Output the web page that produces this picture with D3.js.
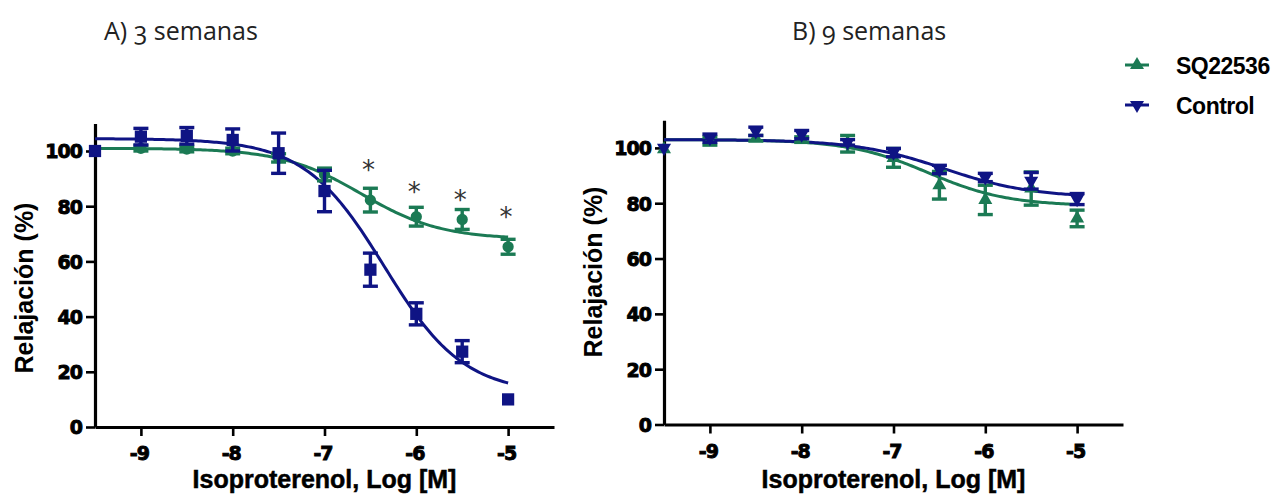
<!DOCTYPE html>
<html>
<head>
<meta charset="utf-8">
<script src="https://cdn.jsdelivr.net/npm/d3@7"></script>
<style>
  html, body { margin: 0; padding: 0; background: #fff; }
  svg { display: block; }
</style>
</head>
<body>
<svg id="chart" width="1282" height="497"></svg>
<script>
// Log concentrations of isoproterenol (M)
const doses = [-9.5, -9, -8.5, -8, -7.5, -7, -6.5, -6, -5.5, -5];
const xTicks = [-9, -8, -7, -6, -5];
const yTicks = [0, 20, 40, 60, 80, 100];

// A) 3 semanas — mean relaxation (%) and SEM
const sqMean3  = [100, 101, 100.7, 100, 97.5, 91.5, 82.2, 76.2, 75.2, 65.3];
const sqSem3   = [0, 1, 1, 1, 1.5, 2.3, 4.3, 3.4, 3.6, 2.7];
const ctlMean3 = [100, 105.2, 105.5, 104, 99.2, 85.5, 57, 41, 27.3, 10];
const ctlSem3  = [0, 3, 3, 4, 7.3, 7.5, 6, 4, 4, 0];

// B) 9 semanas — mean relaxation (%) and SEM
const sqMean9  = [99.5, 102.5, 103.5, 103, 101.5, 96.4, 86.5, 81.2, 85.3, 74.5];
const sqSem9   = [0, 1.5, 1, 1, 3, 3.4, 5, 5.3, 6, 3];
const ctlMean9 = [100, 103.5, 106, 104.8, 102, 98.3, 92.2, 89.3, 88.1, 81.5];
const ctlSem9  = [0, 1.5, 1.5, 1.5, 1, 1.5, 1.5, 1.5, 3, 2];

// Sigmoidal dose–response fits: [top, bottom, logEC50, Hill slope]
const fitSQ3  = [101, 68, -6.6, 1];
const fitCtl3 = [104.5, 12, -6.35, 1];
const fitSQ9  = [103, 79, -6.62, 1];
const fitCtl9 = [103, 82, -6.45, 0.9];

// Significance marks (*) over SQ22536 in panel A
const starDoses = [-6.5, -6, -5.5, -5];
const starLevels = [94.6, 86.7, 83.7, 77.4];

const seriesNames = ["SQ22536", "Control"];
const GREEN = "#1b7a54";
const BLUE = "#0f1484";

const svg = d3.select("#chart");
const tickFont = "'DejaVu Sans', sans-serif";
const labelFont = "'Liberation Sans', Arial, sans-serif";

function sigmoid(p, x) {
  const [top, bottom, ec, h] = p;
  return bottom + (top - bottom) / (1 + Math.pow(10, (x - ec) * h));
}

function drawPanel(cfg) {
  const x = d3.scaleLinear().domain([-9.5, -4.5]).range([cfg.left, cfg.left + 459]);
  const y = d3.scaleLinear().domain([0, 110]).range([cfg.bottom, cfg.bottom - 110 * cfg.k]);
  const g = svg.append("g");

  // axes
  const xAxis = d3.axisBottom(x).tickValues(xTicks).tickSize(9).tickSizeOuter(0)
    .tickFormat(d => String(d).replace("\u2212", "-"));
  const gx = g.append("g").attr("transform", `translate(0,${cfg.bottom})`).call(xAxis);
  const yAxis = d3.axisLeft(y).tickValues(yTicks).tickSize(9).tickSizeOuter(0);
  const gy = g.append("g").attr("transform", `translate(${cfg.left},0)`).call(yAxis);
  [gx, gy].forEach(a => {
    a.select(".domain").attr("stroke", "#000").attr("stroke-width", 3.2);
    a.selectAll(".tick line").attr("stroke", "#000").attr("stroke-width", 2.6);
    a.selectAll(".tick text")
      .attr("fill", "#000").attr("font-family", tickFont)
      .attr("font-weight", "bold").attr("font-size", 19).attr("letter-spacing", -1)
      .attr("stroke", "#000").attr("stroke-width", 0.9);
  });
  gx.selectAll(".tick text").attr("dy", 0).attr("y", 33).attr("dx", -2);
  gy.selectAll(".tick text").attr("x", -13).attr("dy", "0.36em");

  // axis titles
  g.append("text")
    .attr("x", (x(-9.5) + x(-4.5)) / 2).attr("y", 488)
    .attr("text-anchor", "middle")
    .attr("font-family", labelFont).attr("font-weight", "bold").attr("font-size", 25)
    .attr("fill", "#000").attr("stroke", "#000").attr("stroke-width", 0.5)
    .text("Isoproterenol, Log [M]");
  g.append("text")
    .attr("transform", `translate(${cfg.yLabelX},${cfg.yLabelY}) rotate(-90)`)
    .attr("text-anchor", "middle").attr("dy", "0.36em")
    .attr("font-family", labelFont).attr("font-weight", "bold").attr("font-size", 25)
    .attr("fill", "#000")
    .text("Relajación (%)");

  // panel title
  g.append("text")
    .attr("x", cfg.titleX).attr("y", 40)
    .attr("font-family", "'Open Sans', sans-serif").attr("font-size", 25)
    .attr("fill", "#222").style("font-variant-numeric", "oldstyle-nums")
    .text(cfg.title);

  // fitted curves
  const grid = d3.range(0, 181).map(i => -9.5 + i * 4.5 / 180);
  const line = d3.line().x(d => x(d[0])).y(d => y(d[1])).curve(d3.curveLinear);
  cfg.series.forEach(s => {
    g.append("path")
      .datum(grid.map(v => [v, sigmoid(s.fit, v)]))
      .attr("fill", "none").attr("stroke", s.color).attr("stroke-width", 3)
      .attr("d", line);
  });

  // error bars and markers
  cfg.series.forEach(s => {
    const pts = doses.map((d, i) => ({ d, m: s.mean[i], e: s.sem[i] }));
    const eg = g.append("g").attr("stroke", s.color).attr("stroke-width", 3.4);
    pts.filter(p => p.e > 0).forEach(p => {
      eg.append("line").attr("x1", x(p.d)).attr("x2", x(p.d))
        .attr("y1", y(p.m - p.e)).attr("y2", y(p.m + p.e));
      [p.m - p.e, p.m + p.e].forEach(v => {
        eg.append("line").attr("x1", x(p.d) - 7.5).attr("x2", x(p.d) + 7.5)
          .attr("y1", y(v)).attr("y2", y(v));
      });
    });
    g.append("g").selectAll("path").data(pts).join("path")
      .attr("transform", p => `translate(${x(p.d)},${y(p.m)}) rotate(${s.rot})`)
      .attr("d", d3.symbol().type(s.symbol).size(s.size))
      .attr("fill", s.color);
  });

  if (cfg.stars) {
    g.append("g").selectAll("text").data(starDoses).join("text")
      .attr("x", d => x(d) - 2)
      .attr("y", (d, i) => y(starLevels[i]) + 13)
      .attr("text-anchor", "middle")
      .attr("font-family", tickFont).attr("font-size", 26).attr("fill", "#333")
      .text("*");
  }
}

drawPanel({
  left: 95, bottom: 427, k: 2.76, title: "A) 3 semanas", titleX: 104,
  yLabelX: 24, yLabelY: 288, stars: true,
  series: [
    { mean: sqMean3, sem: sqSem3, fit: fitSQ3, color: GREEN, symbol: d3.symbolCircle, size: 100, rot: 0 },
    { mean: ctlMean3, sem: ctlSem3, fit: fitCtl3, color: BLUE, symbol: d3.symbolSquare, size: 150, rot: 0 }
  ]
});

drawPanel({
  left: 664, bottom: 424.5, k: 2.766, title: "B) 9 semanas", titleX: 792,
  yLabelX: 593, yLabelY: 272, stars: false,
  series: [
    { mean: sqMean9, sem: sqSem9, fit: fitSQ9, color: GREEN, symbol: d3.symbolTriangle, size: 85, rot: 0 },
    { mean: ctlMean9, sem: ctlSem9, fit: fitCtl9, color: BLUE, symbol: d3.symbolTriangle, size: 85, rot: 180 }
  ]
});

// legend
const legend = svg.append("g");
const legendColors = [GREEN, BLUE];
const legendRot = [0, 180];
seriesNames.forEach((name, i) => {
  const cy = 65 + i * 40;
  legend.append("line").attr("x1", 1125).attr("x2", 1149).attr("y1", cy).attr("y2", cy)
    .attr("stroke", legendColors[i]).attr("stroke-width", 3);
  legend.append("path")
    .attr("transform", `translate(1137,${cy}) rotate(${legendRot[i]})`)
    .attr("d", d3.symbol().type(d3.symbolTriangle).size(85))
    .attr("fill", legendColors[i]);
  legend.append("text")
    .attr("x", 1176).attr("y", cy + 8.5)
    .attr("font-family", labelFont).attr("font-weight", "bold").attr("font-size", 23)
    .attr("letter-spacing", -0.5).attr("fill", "#000")
    .text(name);
});
</script>
</body>
</html>
